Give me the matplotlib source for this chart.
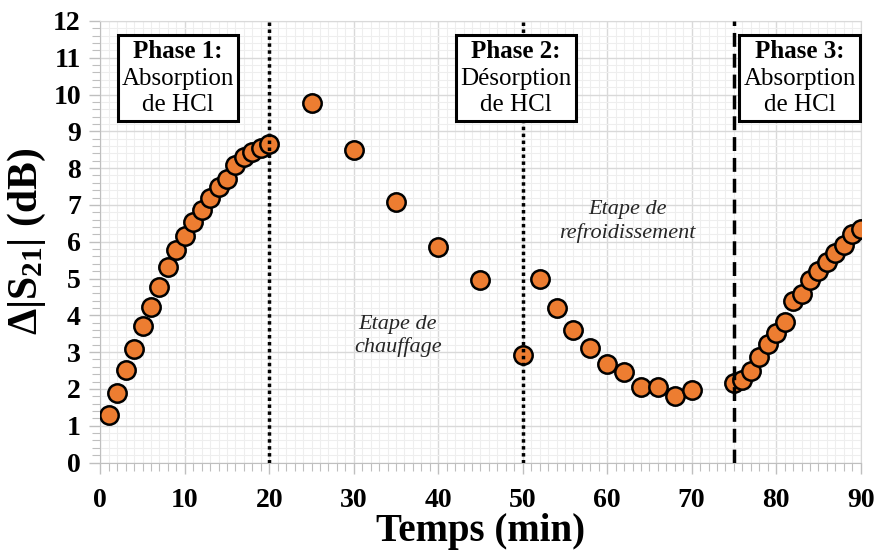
import matplotlib
matplotlib.use("Agg")
import matplotlib.pyplot as plt
from matplotlib.ticker import MultipleLocator
from matplotlib.offsetbox import TextArea, VPacker, AnnotationBbox
import numpy as np

plt.rcParams['font.family'] = ['Liberation Serif', 'DejaVu Serif']
plt.rcParams['mathtext.fontset'] = 'custom'
plt.rcParams['mathtext.rm'] = 'Liberation Serif'
plt.rcParams['mathtext.bf'] = 'Liberation Serif:bold'
plt.rcParams['mathtext.default'] = 'bf'

# data
temps = [1, 2, 3, 4, 5, 6, 7, 8, 9, 10, 11, 12, 13, 14, 15, 16, 17, 18, 19, 20,
         25, 30, 35, 40, 45, 50,
         52, 54, 56, 58, 60, 62, 64, 66, 68, 70,
         75, 76, 77, 78, 79, 80, 81, 82, 83, 84, 85, 86, 87, 88, 89, 90]
delta_s21 = [1.28, 1.89, 2.51, 3.09, 3.71, 4.24, 4.77, 5.31, 5.77, 6.16,
             6.54, 6.86, 7.18, 7.48, 7.70, 8.08, 8.30, 8.45, 8.55, 8.65,
             9.77, 8.50, 7.08, 5.87, 4.96, 2.93,
             4.99, 4.20, 3.60, 3.12, 2.68, 2.45, 2.05, 2.05, 1.80, 1.96,
             2.16, 2.25, 2.50, 2.87, 3.21, 3.53, 3.83, 4.39, 4.57, 4.96,
             5.20, 5.45, 5.69, 5.91, 6.20, 6.34]

phase_titles = ["Phase 1:", "Phase 2:", "Phase 3:"]
phase_texts = ["Absorption\nde HCl", "Désorption\nde HCl", "Absorption\nde HCl"]
phase_pos = [(9.2, 10.45), (49.2, 10.45), (82.8, 10.45)]

fig = plt.figure(figsize=(8.8, 5.5), dpi=100)
ax = fig.add_axes([0.114, 0.159, 0.864, 0.803])

ax.set_xlim(0, 90)
ax.set_ylim(0, 12)
ax.xaxis.set_major_locator(MultipleLocator(10))
ax.xaxis.set_minor_locator(MultipleLocator(1))
ax.yaxis.set_major_locator(MultipleLocator(1))
ax.yaxis.set_minor_locator(MultipleLocator(0.2))

ax.grid(which='major', color='#d9d9d9', lw=1.0, zorder=0)
ax.grid(which='minor', color='#eeeeee', lw=0.8, zorder=0)
ax.set_axisbelow(True)

for s in ax.spines.values():
    s.set_color('#d9d9d9')
ax.spines['left'].set_color('#bfbfbf')
ax.spines['bottom'].set_color('#bfbfbf')

ax.tick_params(which='both', direction='out', color='#bfbfbf')
ax.tick_params(which='major', length=8, width=1, labelsize=20)
ax.tick_params(axis='y', which='major', pad=6)
ax.tick_params(axis='x', which='major', pad=10)
ax.tick_params(which='minor', length=6, width=0.8)
for lab in ax.get_xticklabels() + ax.get_yticklabels():
    lab.set_fontweight('bold')

ax.scatter(temps, delta_s21, s=175, c='#ED7D31', edgecolors='black',
           linewidths=1.8, zorder=3)

ax.axvline(20, color='black', lw=2.5, ls=(0, (1, 1)), zorder=4)
ax.axvline(50, color='black', lw=2.5, ls=(0, (1, 1)), zorder=4)
ax.axvline(75, color='black', lw=2.5, ls=(0, (4, 2)), zorder=4)

for title, txt, pos in zip(phase_titles, phase_texts, phase_pos):
    t1 = TextArea(title, textprops=dict(fontsize=18, fontweight='bold'))
    t2 = TextArea(txt, textprops=dict(fontsize=18, ha='center',
                                       multialignment='center', linespacing=1.25))
    pack = VPacker(children=[t1, t2], align='center', pad=0, sep=4)
    ab = AnnotationBbox(pack, pos, xycoords='data', box_alignment=(0.5, 0.5),
                        frameon=True, pad=0.3,
                        bboxprops=dict(edgecolor='black', lw=2.2, facecolor='white'),
                        zorder=5)
    ax.add_artist(ab)

ax.text(35.2, 3.44, "Etape de\nchauffage", style='italic', fontsize=16,
        ha='center', va='center', color='#262626', linespacing=1.25)
ax.text(62.4, 6.55, "Etape de\nrefroidissement", style='italic', fontsize=16,
        ha='center', va='center', color='#262626', linespacing=1.25)

ax.set_xlabel("Temps (min)", fontsize=28, fontweight='bold', labelpad=0)
ax.set_ylabel("Δ|S$_{21}$| (dB)", fontsize=30, fontweight='bold', labelpad=4)

fig.savefig("out.png", dpi=100)
